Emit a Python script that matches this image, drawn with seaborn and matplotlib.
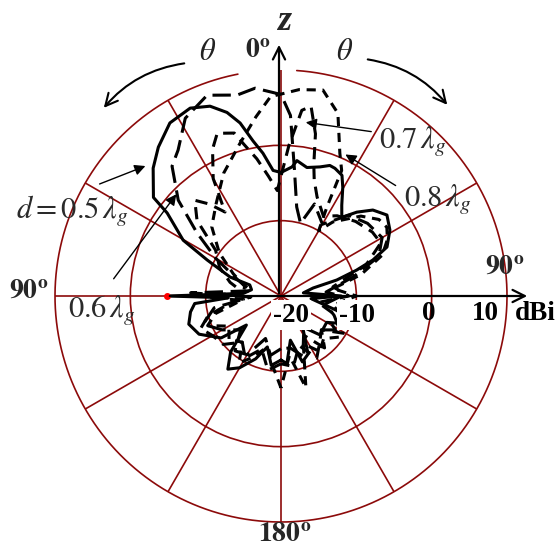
import numpy as np
import pandas as pd
import matplotlib
matplotlib.use("Agg")
import matplotlib.pyplot as plt
from matplotlib.patches import FancyArrowPatch
import seaborn as sns

# ---------------- data (theta in degrees, clockwise from +z; gain in dBi) -------------
S_TH = [-180, -172, -165, -158, -150, -144, -138, -130, -125, -115, -107, -100, -95, -92, -90,
        -86, -78, -70.5, -69.6, -64, -60.3, -53.9, -52.3, -45, -39.5, -32.7, -25.8, -20.5,
        -16.4, -13.3, -10.2, -7.2, -3.6, 0, 4.9, 6.7, 11.4, 16.8, 20.5, 22.9, 26.8, 29.6,
        33.8, 37.7, 42.1, 46.9, 52.6, 58.8, 65.2, 68.6, 71.1, 74, 76, 82, 90, 95, 105, 112,
        120, 135, 145, 155, 162, 168, 175, 180]
S_R = [-11.5, -10.7, -13, -11, -9, -8, -10, -14, -10.3, -8, -7.2, -7.8, -8.5, -13, -5,
       -15, -16, -15.6, -12.8, -9.1, -5.05, -1.3, 1.4, 4, 5.6, 7.3, 7.7, 6.9,
       5.4, 3.6, 0.9, -0.9, -3.3, -3.6, -2.8, -1.9, -2.6, -2.1, -1.5, -1.6, -2.05, -3.4,
       -5.5, -6.8, -5.0, -3.3, -2.3, -3.1, -4.5, -6.9, -9.4, -12.3, -15.6, -17, -12, -16, -12, -10,
       -13, -12.7, -15, -11.5, -10.8, -14, -11, -11.5]

D6_TH = [-180, -170, -160, -150, -140, -130, -120, -110, -100, -92, -88, -80, -70, -60, -53,
         -47, -40, -35.2, -28.3, -20.2, -12.3, -7.1, -2, 0, 3, 6, 10, 15, 20, 30, 40, 50, 60,
         68, 75, 85, 90, 100, 110, 120, 130, 140, 150, 160, 170, 180]
D6_R = [-13, -12, -14, -11, -10.5, -13, -11, -9, -11, -16, -8, -16, -14, -10, -6,
        -1.35, 2.5, 3.7, 6.8, 8.4, 7.3, 7.8, 7.0, 6.75, 4, -3, -8, -10, -7, -9, -6, -5, -4.5,
        -6, -10, -14, -12, -14, -12.5, -11, -13, -11, -14, -11.5, -13, -13]

D7_TH = [-180, -170, -160, -150, -140, -130, -120, -112, -105, -95, -90, -85, -75, -65, -55,
         -48, -42, -38, -33.7, -30, -25, -21.4, -16, -13.7, -10, -6, -2, 3, 6.4, 9, 12, 14,
         16, 20, 28, 35, 45, 55, 62, 70, 80, 90, 100, 110, 120, 130, 140, 150, 160, 170, 180]
D7_R = [-11, -10, -12.5, -10.5, -12, -10, -9.5, -8.5, -10, -14, -9, -15, -13, -11, -9.4,
        -5, -2.9, -4.5, -6.6, -2, 1.5, 3.2, 2.5, 0.7, -1.5, -4, -6, 0, 4.8, 5.5, 2, -2,
        -4, -6, -8, -7, -6, -5.2, -5, -8, -13, -11, -15, -12, -10, -13, -12, -10.5, -13, -10.5, -11]

D8_TH = [-180, -172, -165, -155, -148, -140, -130, -120, -112, -105, -95, -90, -85, -75, -65,
         -55, -45, -35, -25, -15, -8, -3, 0, 5, 11.5, 17.3, 22.4, 25.8, 27.3, 30, 35, 45, 52,
         57, 62, 68, 75, 82, 90, 100, 110, 118, 125, 135, 145, 155, 164.8, 172, 180]
D8_R = [-7.8, -11, -13, -11, -9.5, -12, -11, -12, -9.5, -11, -15, -10, -15, -15, -13,
        -10, -7, -5, -2, 1, 4, 6.5, 6.8, 7.5, 7.9, 5.4, 0.5, -1.5, -6.7, -10, -8, -5, -3.5,
        -3.25, -4, -5.5, -9, -13, -10, -13, -11, -12.5, -10.5, -12, -11, -13, -7.4, -12, -7.8]

R_TICKS = [-10, 0, 10]
R_LABELS = ["-20", "-10", "0", "10"]
SPOKES = list(range(0, 360, 30))
DOT_TH, DOT_R = [-90], [-4.9]

W, H = 555, 547
RED = "#8c0a0a"

sns.set_theme(style="white")
plt.rcParams["font.family"] = ["Liberation Serif", "DejaVu Serif"]
plt.rcParams["mathtext.fontset"] = "stix"

fig = plt.figure(figsize=(W / 100, H / 100), dpi=100)
cx, cy, R = 281, 296, 226
ax = fig.add_axes([(cx - R) / W, (H - cy - R) / H, 2 * R / W, 2 * R / H], projection="polar")
ax.set_theta_zero_location("N")
ax.set_theta_direction(-1)
ax.set_ylim(-20, 10)
ax.set_facecolor("none")
ax.spines["polar"].set_visible(False)
ax.set_xticks(np.deg2rad(SPOKES))
ax.set_xticklabels([])
ax.set_yticks(R_TICKS[:-1])
ax.set_yticklabels([])
ax.grid(True, color=RED, lw=1.2)
ax.tick_params(length=0)

# outer ring (with a small gap below the 0° label)
ring = np.deg2rad(np.linspace(4, 349, 400))
ax.plot(ring, np.full_like(ring, R_TICKS[-1]), color=RED, lw=1.2, clip_on=False)

def curve(th, r, ls):
    df = pd.DataFrame({"theta": np.deg2rad(th), "r": r})
    sns.lineplot(data=df, x="theta", y="r", ax=ax, sort=False, estimator=None,
                 color="black", lw=2.2, linestyle=ls)

curve(S_TH, S_R, "-")
curve(D6_TH, D6_R, (0, (6, 2.5)))
curve(D7_TH, D7_R, (0, (4, 2.5)))
curve(D8_TH, D8_R, (0, (3, 2.2)))
ax.plot(np.deg2rad(DOT_TH), DOT_R, "o", color="red", ms=4)
ax.set_xlabel("")
ax.set_ylabel("")
ax.set_ylim(-20, 10)

def P(x, y):
    return (x / W, 1 - y / H)

def arrow(x0, y0, x1, y1, lw=1.0, rad=0.0, ms=14, style="->"):
    a = FancyArrowPatch(P(x0, y0), P(x1, y1), transform=fig.transFigure,
                        arrowstyle=style, mutation_scale=ms, lw=lw, color="black",
                        connectionstyle=f"arc3,rad={rad}")
    fig.patches.append(a)

# axes arrows
arrow(167, 296, 530, 296, lw=1.6, ms=22)
arrow(279, 296, 279, 42, lw=1.6, ms=22)
# theta arrows
arrow(187, 63, 102, 110, lw=1.5, rad=0.2, ms=22)
arrow(365, 59, 449, 107, lw=1.5, rad=-0.2, ms=22)

bold = dict(fontweight="bold", color="black")
fs = 19.5
fig.text(*P(291, 315), R_LABELS[0], ha="center", va="center", fontsize=fs, **bold,
         bbox=dict(fc="white", ec="none", pad=1.5))
fig.text(*P(357, 315), R_LABELS[1], ha="center", va="center", fontsize=fs, **bold,
         bbox=dict(fc="white", ec="none", pad=1.5))
fig.text(*P(429, 314), R_LABELS[2], ha="center", va="center", fontsize=fs, **bold)
fig.text(*P(485, 314), R_LABELS[3], ha="center", va="center", fontsize=fs, **bold)
fig.text(*P(515, 314), "dBi", ha="left", va="center", fontsize=fs, **bold)

fig.text(*P(29, 292), r"$\mathbf{90^o}$", ha="center", va="center", fontsize=20)
fig.text(*P(505, 268), r"$\mathbf{90^o}$", ha="center", va="center", fontsize=20)
fig.text(*P(285, 536), r"$\mathbf{180^o}$", ha="center", va="center", fontsize=20)
fig.text(*P(258, 52), r"$\mathbf{0^o}$", ha="center", va="center", fontsize=20)
fig.text(*P(284, 22), "z", ha="center", va="center", fontsize=26, fontweight="bold",
         fontstyle="italic")
fig.text(*P(208, 53), r"$\theta$", ha="center", va="center", fontsize=22, color="#222222")
fig.text(*P(345, 53), r"$\theta$", ha="center", va="center", fontsize=22, color="#222222")

tc = "#2a2a2a"
afs = 22
fig.text(*P(16, 219), r"$d = 0.5\,\lambda_{g}$", ha="left", va="baseline", fontsize=afs, color=tc)
fig.text(*P(68, 318), r"$0.6\,\lambda_{g}$", ha="left", va="baseline", fontsize=afs, color=tc)
fig.text(*P(379, 149), r"$0.7\,\lambda_{g}$", ha="left", va="baseline", fontsize=afs, color=tc)
fig.text(*P(404, 207), r"$0.8\,\lambda_{g}$", ha="left", va="baseline", fontsize=afs, color=tc)

arrow(97, 185, 148, 165, lw=1.0, ms=16, style="-|>")
arrow(112, 281, 178, 192, lw=1.0, ms=16, style="-|>")
arrow(374, 132, 303, 122, lw=1.0, ms=16, style="-|>")
arrow(398, 187, 343, 153, lw=1.0, ms=16, style="-|>")

fig.savefig("out.png", dpi=100)
